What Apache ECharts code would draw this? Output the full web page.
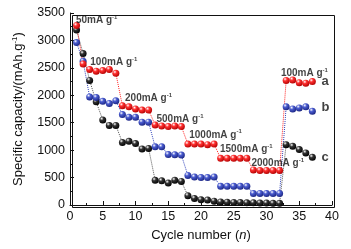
<!DOCTYPE html>
<html>
<head>
<meta charset="utf-8">
<script src="https://cdn.jsdelivr.net/npm/echarts@6/dist/echarts.min.js"></script>
<style>
  html, body { margin: 0; padding: 0; background: #fff; }
  #chart { width: 351px; height: 249px; }
</style>
</head>
<body>
<div id="chart"></div>
<script>
// cycle numbers 1..37
const cycles = [1, 2, 3, 4, 5, 6, 7, 8, 9, 10, 11, 12, 13, 14, 15, 16, 17, 18, 19, 20,
  21, 22, 23, 24, 25, 26, 27, 28, 29, 30, 31, 32, 33, 34, 35, 36, 37];

// capacities (mAh/g)
const capA = [3270, 2570, 2470, 2440, 2450, 2470, 2400, 1810, 1790, 1750, 1730, 1730,
  1460, 1440, 1430, 1440, 1430, 1110, 1110, 1110, 1100, 1110, 850, 850, 850, 850, 850,
  640, 630, 630, 630, 630, 2270, 2280, 2230, 2220, 2250];
const capB = [2960, 2620, 1970, 1960, 1890, 1850, 1900, 1650, 1600, 1600, 1510, 1510,
  1060, 1060, 920, 915, 910, 540, 510, 500, 500, 510, 340, 340, 340, 340, 340,
  210, 210, 210, 210, 210, 1790, 1750, 1770, 1790, 1710];
const capC = [3190, 2760, 2270, 1880, 1550, 1450, 1450, 1140, 1160, 1120, 1020, 1030,
  450, 440, 400, 450, 430, 170, 120, 95, 90, 70, 55, 50, 45, 45, 40, 40, 35, 35, 30, 30,
  1100, 1070, 1010, 950, 870];

// rate labels: [cycle, capacity, current]
const rateLabels = [
  [0.9, 3370, '50mA'],
  [3.1, 2600, '100mA'],
  [8.4, 1940, '200mA'],
  [13.2, 1570, '500mA'],
  [18.2, 1280, '1000mA'],
  [22.9, 1010, '1500mA'],
  [27.7, 765, '2000mA'],
  [32.2, 2400, '100mA']
];
// sample letters
const sampleLabels = [
  [38.4, 2260, 'a'],
  [38.4, 1772, 'b'],
  [38.4, 874, 'c']
];

const chart = echarts.init(document.getElementById('chart'));

function ball(base, dark) {
  return {
    type: 'radial', x: 0.35, y: 0.3, r: 0.75,
    colorStops: [
      { offset: 0, color: '#ffffff' },
      { offset: 0.35, color: base },
      { offset: 1, color: dark }
    ]
  };
}

function capSeries(values, base, dark, line) {
  return {
    type: 'line',
    data: cycles.map((c, i) => [c, values[i]]),
    symbol: 'circle',
    symbolSize: 7,
    showSymbol: true,
    lineStyle: { color: line, width: 1, type: 'dotted' },
    itemStyle: { color: ball(base, dark) },
    z: 3
  };
}

const axisFont = {
  fontFamily: 'Liberation Sans', fontSize: 12.5, color: '#111',
  formatter: v => String(v)
};

chart.setOption({
  animation: false,
  grid: { left: 70, right: 19, top: 13, bottom: 44 },
  xAxis: {
    type: 'value', min: 0, max: 40, interval: 5,
    name: '{t|Cycle number (}{i|n}{t|)}',
    nameLocation: 'middle', nameGap: 24,
    nameTextStyle: {
      rich: {
        t: { fontFamily: 'Liberation Sans', fontSize: 13, color: '#111' },
        i: { fontFamily: 'Liberation Sans', fontSize: 13, fontStyle: 'italic', color: '#111' }
      }
    },
    axisLine: { onZero: false, lineStyle: { color: '#111', width: 1 } },
    axisTick: { inside: true, length: 4, lineStyle: { color: '#111' } },
    minorTick: { show: true, splitNumber: 2, length: 2, lineStyle: { color: '#111' } },
    axisLabel: Object.assign({ margin: 5 }, axisFont),
    splitLine: { show: false }
  },
  yAxis: {
    type: 'value', min: 0, max: 3500, interval: 500,
    name: '{t|Specific capacity/(mAh.g}{s|-1}{t|)}',
    nameLocation: 'middle', nameGap: 44,
    nameTextStyle: {
      rich: {
        t: { fontFamily: 'Liberation Sans', fontSize: 13, color: '#111' },
        s: { fontFamily: 'Liberation Sans', fontSize: 8, color: '#111', padding: [0, 0, 7, 0] }
      }
    },
    axisLine: { show: true, lineStyle: { color: '#111', width: 1 } },
    axisTick: { inside: true, length: 4, lineStyle: { color: '#111' } },
    minorTick: { show: true, splitNumber: 2, length: 2, lineStyle: { color: '#111' } },
    axisLabel: Object.assign({ margin: 5 }, axisFont),
    splitLine: { show: false }
  },
  graphic: [{
    type: 'rect', left: 70, top: 13, z: 10, silent: true,
    shape: { width: 262, height: 192 },
    style: { fill: 'none', stroke: '#111', lineWidth: 1 }
  }],
  series: [
    capSeries(capC, '#333333', '#000000', '#555555'),
    capSeries(capB, '#4a5cd0', '#1a2480', '#3344bb'),
    capSeries(capA, '#ff3030', '#b00000', '#ff2020'),
    {
      type: 'scatter',
      symbolSize: 0,
      data: rateLabels.map(d => ({ value: [d[0], d[1]], name: d[2] })),
      label: {
        show: true, position: [0, 0], align: 'left', verticalAlign: 'middle',
        formatter: p => '{a|' + p.name + ' g}{s|-1}',
        rich: {
          a: { fontFamily: 'Liberation Sans', fontWeight: 'bold', fontSize: 10, color: '#111' },
          s: { fontFamily: 'Liberation Sans', fontWeight: 'bold', fontSize: 6, color: '#111', padding: [0, 0, 6, 0] }
        }
      },
      z: 5
    },
    {
      type: 'scatter',
      symbolSize: 0,
      data: sampleLabels.map(d => ({ value: [d[0], d[1]], name: d[2] })),
      label: {
        show: true, position: [0, 0], align: 'left', verticalAlign: 'middle',
        formatter: p => p.name,
        fontFamily: 'Liberation Sans', fontWeight: 'bold', fontSize: 13, color: '#111'
      },
      z: 5
    }
  ]
});
</script>
</body>
</html>
